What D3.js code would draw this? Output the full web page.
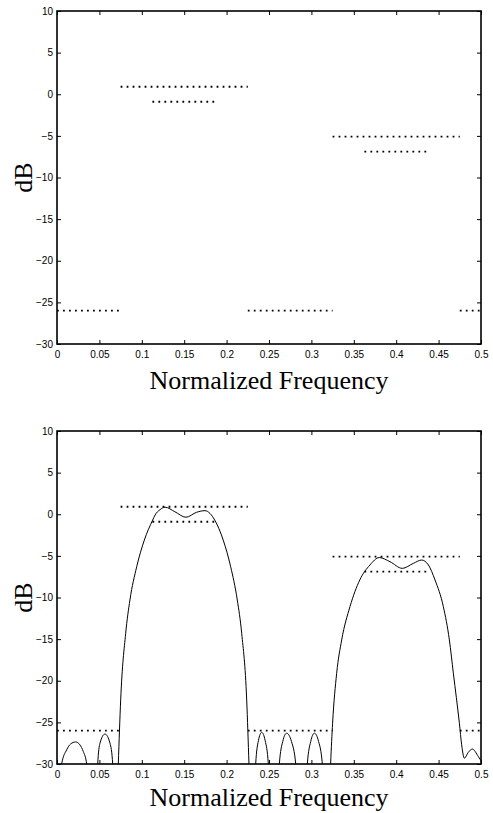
<!DOCTYPE html>
<html>
<head>
<meta charset="utf-8">
<script src="https://cdn.jsdelivr.net/npm/d3@7"></script>
<style>
  body { margin: 0; background: #fff; }
  .tick text { font-family: "Liberation Sans", Arial, sans-serif; font-size: 10px; fill: #000; }
  .axis-label { font-family: "Liberation Serif", "Times New Roman", serif; font-size: 26px; fill: #000; }
</style>
</head>
<body>
<div class="canvas"></div>
<script>
// tick values
const xTicks = [0, 0.05, 0.1, 0.15, 0.2, 0.25, 0.3, 0.35, 0.4, 0.45, 0.5];
const yTicks = [-30, -25, -20, -15, -10, -5, 0, 5, 10];

// spec limits (dotted): frequency band and level in dB
const specStart = [0, 0.075, 0.1125, 0.225, 0.325, 0.3625, 0.475];
const specEnd   = [0.075, 0.225, 0.1875, 0.325, 0.475, 0.4375, 0.5];
const specDb    = [-26, 0.9, -0.9, -26, -5.1, -6.9, -26];

// designed filter response, values below -30 get clipped
const respF = [
  0, 0.004, 0.0055, 0.0114, 0.016, 0.022, 0.027, 0.031, 0.035, 0.0365,
  0.0465, 0.048, 0.0507, 0.0566, 0.0625, 0.0657, 0.067,
  0.071, 0.0723, 0.0751, 0.081, 0.086, 0.094, 0.103, 0.1128, 0.1156, 0.1215, 0.1274,
  0.139, 0.152, 0.1647, 0.1745, 0.1804, 0.186, 0.196, 0.2048, 0.2126, 0.2178, 0.2237, 0.2264, 0.2278,
  0.233, 0.2343, 0.2375, 0.2414, 0.2455, 0.2492, 0.2505,
  0.2608, 0.2622, 0.2662, 0.2708, 0.2765, 0.2815, 0.2828,
  0.2938, 0.2952, 0.2992, 0.3035, 0.3085, 0.3129, 0.3142,
  0.3212, 0.3227, 0.325, 0.3298, 0.3357, 0.3455, 0.357, 0.369, 0.380, 0.3927, 0.4072, 0.4202, 0.43,
  0.438, 0.4458, 0.4556, 0.4627, 0.4674, 0.4745, 0.4772, 0.4804, 0.485, 0.4898, 0.4968, 0.5
];
const respDb = [
  -34, -32, -30, -28.3, -27.6, -27.35, -27.7, -28.5, -30, -34,
  -34, -30, -27.5, -26.4, -27.5, -30, -34,
  -34, -30, -22.3, -14.3, -10.3, -6.3, -3.1, -0.7, -0.1, 0.55, 0.85,
  0.3, -0.36, 0.24, 0.43, 0.1, -0.7, -3.1, -6.3, -10.3, -14.3, -22.3, -30, -34,
  -34, -30, -27.2, -26.2, -27.2, -30, -34,
  -34, -30, -27.3, -26.3, -27.3, -30, -34,
  -34, -30, -27.3, -26.3, -27.3, -30, -34,
  -34, -29.9, -25.1, -19.1, -15.1, -11.1, -7.9, -6.1, -5.2, -5.7, -6.5, -5.9, -5.5,
  -6.1, -7.9, -11.1, -15.1, -19.1, -25.1, -27.7, -29.3, -28.6, -28.2, -29.1, -29.6
];

const W = 493, H = 813;
const left = 57, right = 481;
const panels = [
  {top: 11, bottom: 344, labelY: 389, curve: false},
  {top: 431, bottom: 764, labelY: 806, curve: true}
];

const svg = d3.select('.canvas')
  .append('svg')
    .attr('width', W)
    .attr('height', H);

const x = d3.scaleLinear().domain([0, 0.5]).range([left, right]);

const specData = specDb.map((db, i) => ({f0: specStart[i], f1: specEnd[i], db: db}));
const respData = respF.map((f, i) => ({f: f, db: respDb[i]}));

panels.forEach((p, k) => {
  const y = d3.scaleLinear().domain([-30, 10]).range([p.bottom, p.top]);
  const g = svg.append('g');

  // clip for curve
  g.append('clipPath')
      .attr('id', 'clip' + k)
    .append('rect')
      .attr('x', left)
      .attr('y', p.top)
      .attr('width', right - left)
      .attr('height', p.bottom - p.top);

  // axes (inward ticks)
  g.append('g')
      .attr('transform', `translate(0, ${p.bottom})`)
      .call(d3.axisBottom(x).tickValues(xTicks).tickSize(-4).tickPadding(7).tickFormat(d => String(d)))
      .call(a => a.select('.domain').remove());

  g.append('g')
      .attr('transform', `translate(0, ${p.top})`)
      .call(d3.axisTop(x).tickValues(xTicks).tickSize(-4).tickFormat(''))
      .call(a => a.select('.domain').remove());

  g.append('g')
      .attr('transform', `translate(${left}, 0)`)
      .call(d3.axisLeft(y).tickValues(yTicks).tickSize(-4).tickPadding(4).tickFormat(d3.format('d')))
      .call(a => a.select('.domain').remove());

  g.append('g')
      .attr('transform', `translate(${right}, 0)`)
      .call(d3.axisRight(y).tickValues(yTicks).tickSize(-4).tickFormat(''))
      .call(a => a.select('.domain').remove());

  g.selectAll('.tick line').attr('stroke', '#000').attr('stroke-width', 1);

  // spec lines
  g.selectAll('line.spec')
    .data(specData)
    .enter()
    .append('line')
      .attr('class', 'spec')
      .attr('x1', d => x(d.f0))
      .attr('x2', d => x(d.f1))
      .attr('y1', d => y(d.db))
      .attr('y2', d => y(d.db))
      .attr('stroke', '#000')
      .attr('stroke-width', 1.8)
      .attr('stroke-dasharray', '1.8,4.2');

  if (p.curve) {
    const line = d3.line()
      .x(d => x(d.f))
      .y(d => y(d.db))
      .curve(d3.curveMonotoneX);

    g.append('path')
        .datum(respData)
        .attr('clip-path', `url(#clip${k})`)
        .attr('fill', 'none')
        .attr('stroke', '#000')
        .attr('stroke-width', 1)
        .attr('d', line);
  }

  // box
  g.append('rect')
      .attr('x', left)
      .attr('y', p.top)
      .attr('width', right - left)
      .attr('height', p.bottom - p.top)
      .attr('fill', 'none')
      .attr('stroke', '#000')
      .attr('stroke-width', 1.6);

  // labels
  g.append('text')
      .attr('class', 'axis-label')
      .attr('x', (left + right) / 2)
      .attr('y', p.labelY)
      .attr('text-anchor', 'middle')
      .text('Normalized Frequency');

  g.append('text')
      .attr('class', 'axis-label')
      .attr('transform', `translate(32, ${(p.top + p.bottom) / 2}) rotate(-90)`)
      .attr('text-anchor', 'middle')
      .text('dB');
});
</script>
</body>
</html>
